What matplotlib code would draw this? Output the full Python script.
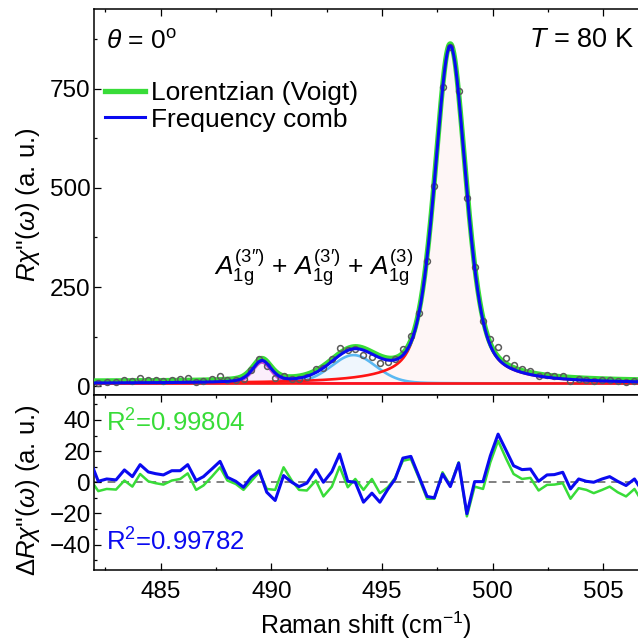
import numpy as np
import matplotlib
matplotlib.use("Agg")
import matplotlib.pyplot as plt
from matplotlib.ticker import MultipleLocator

plt.rcParams["font.family"] = ["Liberation Sans", "DejaVu Sans"]
plt.rcParams["mathtext.fontset"] = "custom"
plt.rcParams["mathtext.rm"] = "Liberation Sans"
plt.rcParams["mathtext.it"] = "Liberation Sans:italic"
plt.rcParams["mathtext.bf"] = "Liberation Sans:bold"

# measured Raman shifts (cm^-1)
raman_shift = [481.81, 482.18, 482.56, 482.98, 483.36, 483.72, 484.07, 484.44, 484.77,
               485.12, 485.50, 485.88, 486.22, 486.60, 486.93, 487.31, 487.68, 488.01,
               488.39, 488.74, 489.08, 489.45, 489.79, 490.17, 490.55, 490.92, 491.25,
               491.60, 492.01, 492.35, 492.73, 493.08, 493.45, 493.79, 494.16, 494.54,
               494.90, 495.26, 495.59, 495.94, 496.30, 496.65, 497.03, 497.36, 497.73,
               498.08, 498.46, 498.83, 499.18, 499.56, 499.89, 500.24, 500.61, 500.94,
               501.32, 501.70, 502.07, 502.45, 502.78, 503.16, 503.51, 503.88, 504.23,
               504.56, 504.94, 505.28, 505.64, 506.02, 506.40, 506.77]

# residuals data - fit
resid_comb = [14, 0.6, 2.1, 1.5, 7.9, 3.6, 11.3, 6.6, 5.5, 4.7, 7.4, 7.4, 11.3, 1.1, 3.6,
              8.5, 13.4, 3.2, 0.6, -3.2, 3.2, 7.4, -6.4, -11.7, 4.3, 0, -2.8, -0.6, 8.1,
              0, 6.8, 18.1, 0.6, 0, -12.8, -7.0, -12.8, -4.5, 2.1, 15.5, 16.6, 4.3, -9.1,
              -10.0, 5.3, -2.8, 12.3, -20.2, 0.4, 0.4, 17.0, 30.9, 20.2, 10.6, 8.1, 8.5,
              0.6, 4.7, 4.9, 6.4, -4.3, 2.1, 0.6, 0, 2.1, 3.6, 0.6, -2.1, 2.1, -6]
resid_voigt = [2, -5.7, -4.3, -4.7, 1.1, -2.8, 5.3, 0.6, -0.6, -1.5, 1.1, 2.1, 5.7, -4.9,
               -2.1, 3.6, 9.6, 1.1, -1.1, -4.9, 0.6, 6.4, -4.3, -4.9, 9.6, 1.1, -4.9, -5.3,
               1.1, -9.1, -2.8, 10.0, -3.2, 2.1, -4.9, 2.1, -7.0, -3.2, 2.8, 13.8, 14.9,
               3.2, -10.6, -10.6, 6.4, -2.1, 12.8, -21.9, -2.8, -4.3, 12.8, 26.6, 14.9, 5.3,
               2.1, 2.8, -5.3, -1.7, -1.5, -0.6, -10.6, -3.8, -4.9, -7.0, -4.9, -2.8, -6.4,
               -9.1, -4.3, -13]

r2_voigt = "0.99804"
r2_comb = "0.99782"

# fitted components: A1g(3''), A1g(3'), A1g(3)
peak_center = [489.57, 493.71, 498.08]
peak_hwhm = [0.5, 1.2, 0.85]
peak_amp = [53, 71.6, 850]
peak_eta = [0.4, 0.15, 0.5]
background = 7
voigt_offset = 5

green = "#38dc38"
blue = "#0a0af0"


def pvoigt(x, x0, hw, eta):
    d = (np.asarray(x) - x0) / hw
    return eta / (1 + d ** 2) + (1 - eta) * np.exp(-np.log(2) * d ** 2)


def component(x, i):
    return peak_amp[i] * pvoigt(x, peak_center[i], peak_hwhm[i], peak_eta[i])


def comb_fit(x):
    return background + sum(component(x, i) for i in range(3))


xf = np.linspace(481.5, 507.0, 1200)
shift = np.array(raman_shift)
observed = comb_fit(shift) + np.array(resid_comb)

fig = plt.figure(figsize=(6.38, 6.41), dpi=100)
left = 94.3 / 638
ax1 = fig.add_axes([left, 1 - 395 / 641, 1 - left, 385.7 / 641])
ax2 = fig.add_axes([left, 1 - 569.5 / 641, 1 - left, 174.5 / 641], sharex=ax1)

# components
fill_cols = ["#fbeefb", "#eff6fd", "#fef6f6"]
line_cols = ["#c845d8", "#5ab8f2", "#ff1414"]
for i in range(3):
    ax1.fill_between(xf, background, background + component(xf, i),
                     color=fill_cols[i], lw=0, zorder=1)
for i in range(3):
    ax1.plot(xf, background + component(xf, i), color=line_cols[i], lw=1.9, zorder=2)
ax1.plot(xf, np.full_like(xf, background), color="#ff1414", lw=1.9, zorder=2)

ax1.plot(xf, comb_fit(xf) + voigt_offset, color=green, lw=3.8, zorder=3,
         label="Lorentzian (Voigt)")
ax1.plot(shift, observed, ls="none", marker="o", ms=4.2, mfc="none", mec="#5a5a5a",
         mew=1.1, zorder=4)
ax1.plot(xf, comb_fit(xf), color=blue, lw=2.2, zorder=5, label="Frequency comb")

ax1.set_xlim(482, 506.56)
ax1.set_ylim(-22, 950)
ax1.yaxis.set_major_locator(MultipleLocator(250))
ax1.yaxis.set_minor_locator(MultipleLocator(125))

ax1.legend(loc="upper left", bbox_to_anchor=(105 / 638, 1 - 81 / 641),
           bbox_transform=fig.transFigure, frameon=False, fontsize=19,
           handlelength=1.5, handletextpad=0.25, labelspacing=0.1,
           borderpad=0, borderaxespad=0)

# residuals
ax2.axhline(0, color="#808080", lw=1.4, ls=(0, (4, 3)), zorder=1)
ax2.plot(shift, resid_voigt, color=green, lw=1.8, zorder=2)
ax2.plot(shift, resid_comb, color=blue, lw=2.2, zorder=3)
ax2.set_ylim(-56, 56)
ax2.yaxis.set_major_locator(MultipleLocator(20))
ax2.yaxis.set_minor_locator(MultipleLocator(10))
ax2.xaxis.set_major_locator(MultipleLocator(5))
ax2.xaxis.set_minor_locator(MultipleLocator(2.5))

for ax in (ax1, ax2):
    for s in ax.spines.values():
        s.set_linewidth(1.1)
    ax.spines["right"].set_visible(False)
    ax.tick_params(which="both", direction="in", top=True, right=False, width=0.9,
                   labelsize=17.5)
    ax.tick_params(which="major", length=5)
    ax.tick_params(axis="y", pad=2.5)
    ax.tick_params(axis="x", pad=8)
    ax.tick_params(which="minor", length=2.5)
ax1.tick_params(which="both", bottom=False, labelbottom=False)

ax2.set_xlabel("Raman shift (cm$^{-1}$)", fontsize=18, labelpad=5)

fig.text(28 / 638, 1 - 205 / 641, r"$R\chi$''$(\omega)$ (a. u.)", rotation=90,
         ha="center", va="center", fontsize=18.5)
fig.text(28 / 638, 1 - 490 / 641, r"$\Delta R\chi$''$(\omega)$ (a. u.)", rotation=90,
         ha="center", va="center", fontsize=18.5)

fig.text(106 / 638, 1 - 42 / 641, r"$\theta$ = 0$^{\rm o}$", fontsize=19,
         ha="left", va="center")
fig.text(634 / 638, 1 - 40 / 641, r"$T$ = 80 K", fontsize=19.5, ha="right", va="center")
fig.text(314 / 638, 1 - 268 / 641,
         "$A_{\\rm 1g}^{\\rm (3\u2033)}$ + $A_{\\rm 1g}^{\\rm (3\u2032)}$ + "
         "$A_{\\rm 1g}^{\\rm (3)}$",
         fontsize=19, ha="center", va="center")
fig.text(106 / 638, 1 - 423 / 641, "R$^2$=" + r2_voigt, color=green, fontsize=18.5,
         ha="left", va="center")
fig.text(106 / 638, 1 - 542 / 641, "R$^2$=" + r2_comb, color=blue, fontsize=18.5,
         ha="left", va="center")

fig.savefig("out.png", dpi=100)
